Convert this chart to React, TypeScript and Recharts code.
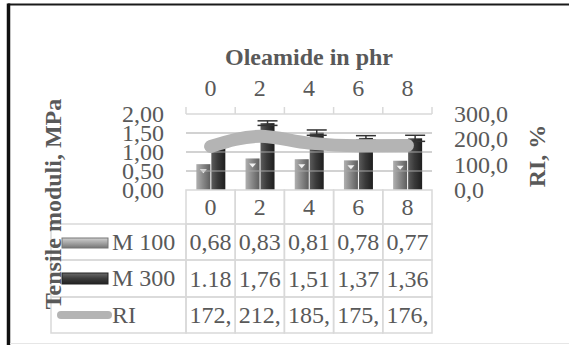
import React from 'react';
import { ComposedChart, Bar, Line, XAxis, YAxis, ErrorBar, ReferenceLine } from 'recharts';

const categories = ['0', '2', '4', '6', '8'];
const m100 = [0.68, 0.83, 0.81, 0.78, 0.77];
const m300 = [1.18, 1.76, 1.51, 1.37, 1.36];
const m300Err = [0.05, 0.06, 0.07, 0.06, 0.08];
const ri = [172, 212, 185, 175, 176];
const m100Labels = ['0,68', '0,83', '0,81', '0,78', '0,77'];
const m300Labels = ['1.18', '1,76', '1,51', '1,37', '1,36'];
const riLabels = ['172,', '212,', '185,', '175,', '176,'];
const leftTicks = [0, 0.5, 1, 1.5, 2];
const rightTicks = [0, 100, 200, 300];
const gridValues = [0.5, 1, 1.5];

const data = categories.map((cat, i) => ({
  cat,
  m100: m100[i],
  m300: m300[i],
  err: m300Err[i],
  ri: ri[i],
}));

const W = 569;
const H = 345;
const PLOT_L = 186;
const PLOT_R = 432;
const PLOT_T = 114;
const PLOT_B = 190;
const BAND = (PLOT_R - PLOT_L) / categories.length;
const ROWS = [190, 224, 260, 297, 333];
const TABLE_L = 51;

const FONT = '"Liberation Serif", "Times New Roman", serif';
const TEXT = '#595959';
const LINE_GREY = '#d9d9d9';
const RI_GREY = '#b4b4b4';

const txt = { fontFamily: FONT, fontSize: 24, fill: TEXT };

const TopTick = (props: any) => {
  const { x, payload, index } = props;
  const half = BAND / 2;
  return (
    <g>
      <line x1={x - half} x2={x - half} y1={PLOT_T - 7} y2={PLOT_T} stroke={LINE_GREY} strokeWidth={1.5} />
      {index === categories.length - 1 && (
        <line x1={x + half} x2={x + half} y1={PLOT_T - 7} y2={PLOT_T} stroke={LINE_GREY} strokeWidth={1.5} />
      )}
      <text x={x} y={96} textAnchor="middle" {...txt}>
        {payload.value}
      </text>
    </g>
  );
};

const cell = (x: number, y0: number, y1: number, w: number) => (
  <rect x={x} y={y0} width={w} height={y1 - y0} fill="none" stroke={LINE_GREY} strokeWidth={1.5} />
);

const TableTick = (props: any) => {
  const { x, payload, index } = props;
  const l = x - BAND / 2;
  const rows = [payload.value, m100Labels[index], m300Labels[index], riLabels[index]];
  return (
    <g>
      {rows.map((v, r) => (
        <g key={r}>
          {cell(l, ROWS[r], ROWS[r + 1], BAND)}
          <text x={x} y={(ROWS[r] + ROWS[r + 1]) / 2 + 8} textAnchor="middle" {...txt}>
            {v}
          </text>
        </g>
      ))}
      {index === 0 && (
        <g>
          <defs>
            <linearGradient id="key100" x1="0" y1="0" x2="0" y2="1">
              <stop offset="0%" stopColor="#d0d0d0" />
              <stop offset="50%" stopColor="#a4a4a4" />
              <stop offset="100%" stopColor="#767676" />
            </linearGradient>
            <linearGradient id="key300" x1="0" y1="0" x2="0" y2="1">
              <stop offset="0%" stopColor="#6a6a6a" />
              <stop offset="50%" stopColor="#3c3c3c" />
              <stop offset="100%" stopColor="#222" />
            </linearGradient>
          </defs>
          {[1, 2, 3].map((r) => (
            <g key={r}>{cell(TABLE_L, ROWS[r], ROWS[r + 1], l - TABLE_L)}</g>
          ))}
          <rect x={62} y={238} width={46} height={10} fill="url(#key100)" stroke="#777" strokeWidth={1} />
          <rect x={62} y={273} width={46} height={11} fill="url(#key300)" stroke="#222" strokeWidth={1} />
          <line x1={61} x2={108} y1={315} y2={315} stroke={RI_GREY} strokeWidth={8} strokeLinecap="round" />
          <text x={112} y={250} {...txt}>M 100</text>
          <text x={112} y={286} {...txt}>M 300</text>
          <text x={112} y={323} {...txt}>RI</text>
        </g>
      )}
    </g>
  );
};

const LeftTick = (props: any) => {
  const { y, payload } = props;
  return (
    <text x={PLOT_L - 22} y={y + 8} textAnchor="end" {...txt}>
      {payload.value.toFixed(2).replace('.', ',')}
    </text>
  );
};

const RightTick = (props: any) => {
  const { y, payload } = props;
  return (
    <text x={PLOT_R + 22} y={y + 8} textAnchor="start" {...txt}>
      {payload.value.toFixed(1).replace('.', ',')}
    </text>
  );
};

const BevelBar = (props: any) => {
  const { x, y, width, height, index, dark } = props;
  if (!height || height <= 0) return null;
  const id = `${dark ? 'b300' : 'b100'}-${index}`;
  const stops = dark ? ['#5c5c5c', '#3a3a3a', '#1e1e1e'] : ['#b0b0b0', '#8a8a8a', '#5e5e5e'];
  const cx = x + width / 2;
  return (
    <g>
      <defs>
        <linearGradient id={id} x1="0" y1="0" x2="1" y2="0">
          <stop offset="0%" stopColor={stops[0]} />
          <stop offset="45%" stopColor={stops[1]} />
          <stop offset="100%" stopColor={stops[2]} />
        </linearGradient>
      </defs>
      <rect x={x} y={y} width={width} height={height} fill={`url(#${id})`} />
      {!dark && (
        <polygon points={`${cx - 3.5},${y + 5} ${cx + 3.5},${y + 5} ${cx},${y + 9}`} fill="#f2f2f2" />
      )}
    </g>
  );
};

export default function App() {
  return (
    <div style={{ position: 'absolute', left: 0, top: 0, width: W, height: H, background: '#fff' }}>
      <ComposedChart
        width={W}
        height={H}
        data={data}
        margin={{ top: PLOT_T - 40, bottom: H - PLOT_B - 30, left: PLOT_L - 60, right: W - PLOT_R - 60 }}
        barCategoryGap="21%"
        barGap={1}
      >
        <XAxis
          xAxisId="top"
          dataKey="cat"
          orientation="top"
          height={40}
          interval={0}
          tickLine={false}
          axisLine={{ stroke: LINE_GREY, strokeWidth: 1.5 }}
          tick={(p: any) => <TopTick {...p} />}
        />
        <XAxis
          xAxisId="bottom"
          dataKey="cat"
          orientation="bottom"
          height={30}
          interval={0}
          tickLine={false}
          axisLine={false}
          tick={(p: any) => <TableTick {...p} />}
        />
        <YAxis
          yAxisId="left"
          domain={[0, 2]}
          ticks={leftTicks}
          interval={0}
          width={60}
          axisLine={false}
          tickLine={false}
          tick={(p: any) => <LeftTick {...p} />}
        />
        <YAxis
          yAxisId="right"
          orientation="right"
          domain={[0, 300]}
          ticks={rightTicks}
          interval={0}
          width={60}
          axisLine={false}
          tickLine={false}
          tick={(p: any) => <RightTick {...p} />}
        />
        {gridValues.map((v) => (
          <ReferenceLine key={v} xAxisId="top" yAxisId="left" y={v} stroke="#a6a6a6" strokeWidth={1.2} />
        ))}
        <Bar
          xAxisId="top"
          yAxisId="left"
          dataKey="m100"
          isAnimationActive={false}
          shape={(p: any) => <BevelBar {...p} />}
        />
        <Bar
          xAxisId="top"
          yAxisId="left"
          dataKey="m300"
          isAnimationActive={false}
          shape={(p: any) => <BevelBar {...p} dark />}
        >
          <ErrorBar dataKey="err" width={10} stroke="#333" strokeWidth={1.5} direction="y" />
        </Bar>
        <Line
          xAxisId="top"
          yAxisId="right"
          dataKey="ri"
          type="monotone"
          stroke={RI_GREY}
          strokeWidth={13}
          strokeLinecap="round"
          dot={false}
          activeDot={false}
          isAnimationActive={false}
        />
      </ComposedChart>
      <svg width={W} height={H} style={{ position: 'absolute', left: 0, top: 0, pointerEvents: 'none' }}>
        <line x1={8} x2={W} y1={4.5} y2={4.5} stroke="#1a1a1a" strokeWidth={2} />
        <line x1={8.5} x2={8.5} y1={3.5} y2={H} stroke="#111" strokeWidth={3.5} />
        <line x1={10} x2={W} y1={343.5} y2={343.5} stroke="#e6e6e6" strokeWidth={1} />
        <text x={(PLOT_L + PLOT_R) / 2} y={65} textAnchor="middle" {...txt} fontWeight="bold">
          Oleamide in phr
        </text>
        <text x={61} y={204} textAnchor="middle" transform="rotate(-90, 61, 204)" {...txt} fontWeight="bold">
          Tensile moduli, MPa
        </text>
        <text x={545} y={156} textAnchor="middle" transform="rotate(-90, 545, 156)" {...txt} fontWeight="bold">
          RI, %
        </text>
      </svg>
    </div>
  );
}
